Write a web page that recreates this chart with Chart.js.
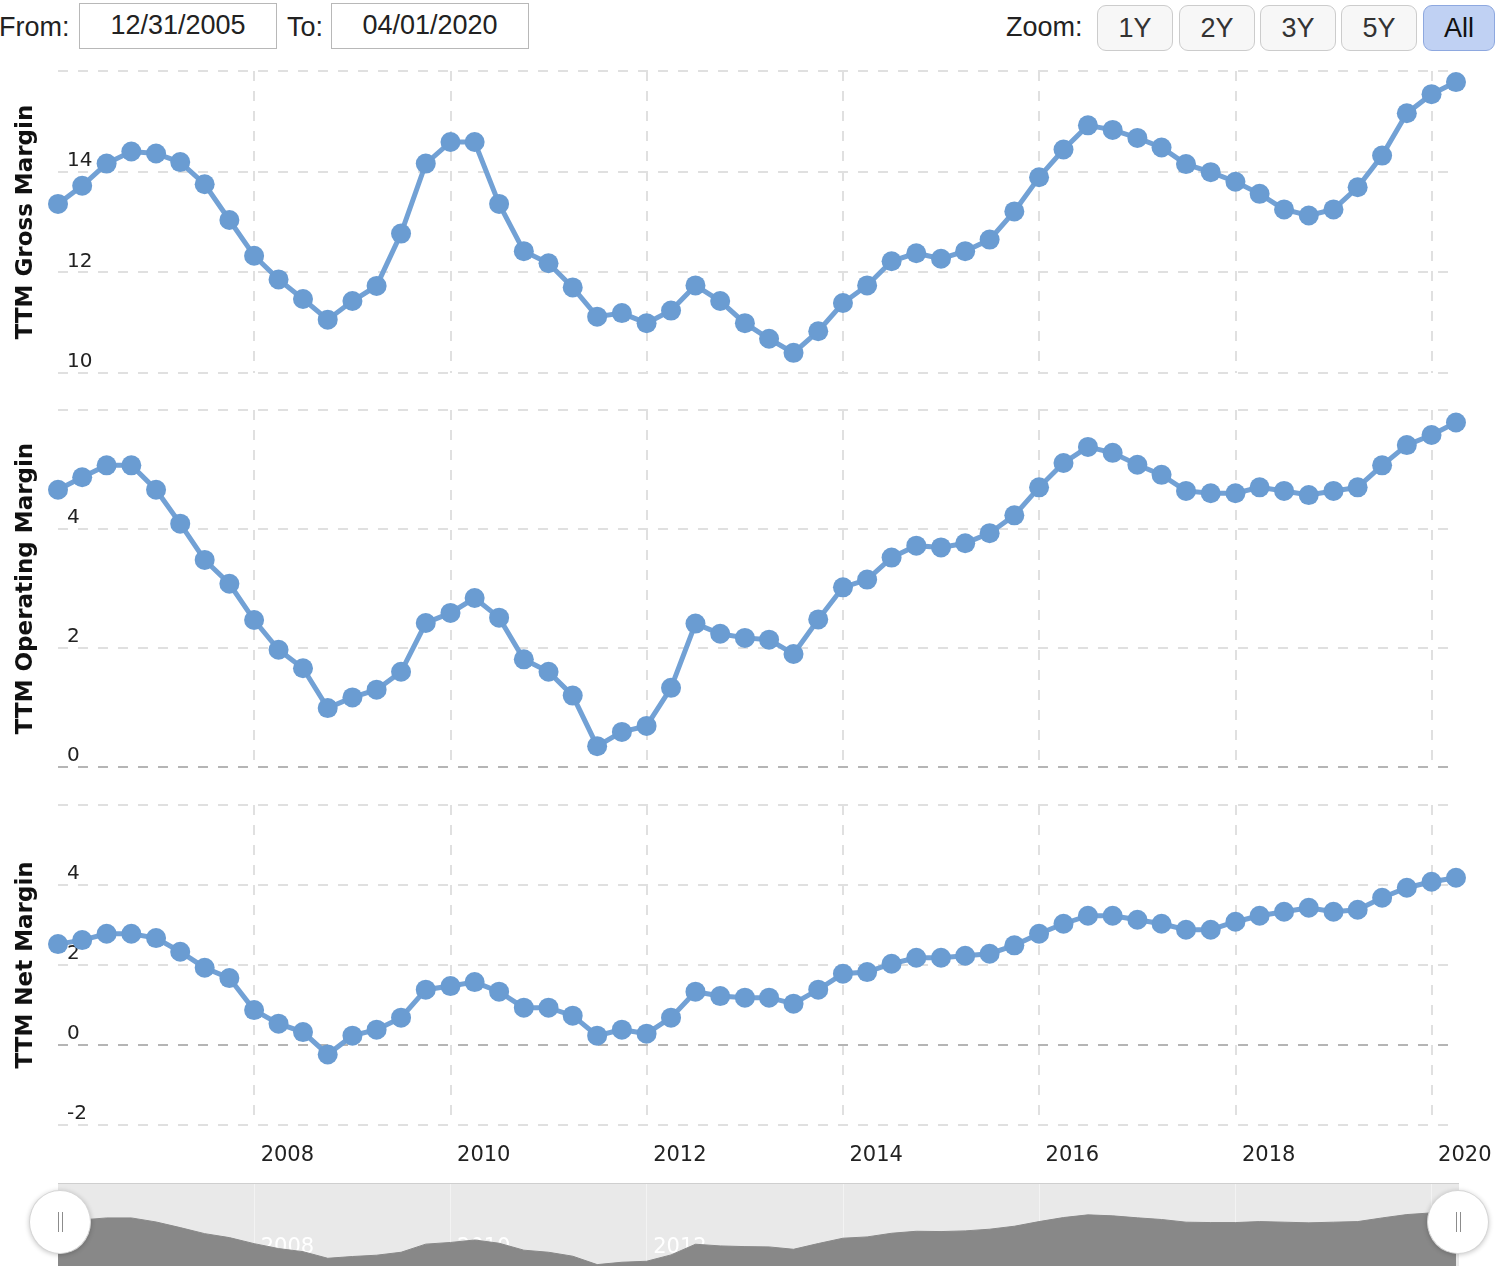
<!DOCTYPE html>
<html>
<head>
<meta charset="utf-8">
<script src="https://cdn.jsdelivr.net/npm/chart.js@4.4.1/dist/chart.umd.min.js"></script>
<style>
html,body{margin:0;padding:0;background:#fff;}
body{width:1498px;height:1266px;overflow:hidden;position:relative;font-family:"Liberation Sans",Arial,Helvetica,sans-serif;color:#222;}
.lbl{position:absolute;top:12px;font-size:27px;line-height:30px;color:#222;}
.box{position:absolute;top:3px;width:198px;height:46px;box-sizing:border-box;border:1.5px solid #b8b8b8;font-size:27px;line-height:43px;text-align:center;color:#222;background:#fff;}
.btn{position:absolute;top:5px;height:46px;width:76px;box-sizing:border-box;border:1px solid #cccccc;border-radius:9px;background:#f7f7f7;font-size:27px;line-height:44px;color:#333;text-align:center;}
.btn.sel{background:#c0d1f3;border-color:#8ea8df;color:#111;}
canvas{position:absolute;left:0;}
#navbg{position:absolute;left:58px;top:1183px;width:1401px;height:90px;background:#e9e9e9;border-top:1px solid #cfcfcf;box-sizing:border-box;}
.handle{position:absolute;top:1190px;width:62px;height:64px;border-radius:50%;background:#fff;border:1px solid #d6d6d6;box-shadow:0 1px 5px rgba(0,0,0,0.22);box-sizing:border-box;}
.handle span{position:absolute;left:28px;top:21px;width:3px;height:20px;border-left:1px solid #8c8c8c;border-right:1px solid #8c8c8c;}
</style>
</head>
<body>
<div class="lbl" style="left:-1px;">From:</div>
<div class="box" style="left:79px;">12/31/2005</div>
<div class="lbl" style="left:287px;">To:</div>
<div class="box" style="left:331px;">04/01/2020</div>
<div class="lbl" style="left:1006px;">Zoom:</div>
<div class="btn" style="left:1097px;">1Y</div>
<div class="btn" style="left:1179px;">2Y</div>
<div class="btn" style="left:1260px;">3Y</div>
<div class="btn" style="left:1341px;">5Y</div>
<div class="btn sel" style="left:1423px;width:72px;">All</div>

<div id="navbg"></div>
<canvas id="c1" width="1498" height="362" style="top:41px;"></canvas>
<canvas id="c2" width="1498" height="417" style="top:380px;"></canvas>
<canvas id="c3" width="1498" height="421" style="top:775px;"></canvas>
<canvas id="c4" width="1498" height="131" style="top:1174px;"></canvas>
<div class="handle" style="left:29px;"><span></span></div>
<div class="handle" style="left:1427px;"><span></span></div>

<script>
// ---- data (quarter ends) ----
const dates = [
 '2005-12-31','2006-03-31','2006-06-30','2006-09-30','2006-12-31','2007-03-31','2007-06-30','2007-09-30',
 '2007-12-31','2008-03-31','2008-06-30','2008-09-30','2008-12-31','2009-03-31','2009-06-30','2009-09-30',
 '2009-12-31','2010-03-31','2010-06-30','2010-09-30','2010-12-31','2011-03-31','2011-06-30','2011-09-30',
 '2011-12-31','2012-03-31','2012-06-30','2012-09-30','2012-12-31','2013-03-31','2013-06-30','2013-09-30',
 '2013-12-31','2014-03-31','2014-06-30','2014-09-30','2014-12-31','2015-03-31','2015-06-30','2015-09-30',
 '2015-12-31','2016-03-31','2016-06-30','2016-09-30','2016-12-31','2017-03-31','2017-06-30','2017-09-30',
 '2017-12-31','2018-03-31','2018-06-30','2018-09-30','2018-12-31','2019-03-31','2019-06-30','2019-09-30',
 '2019-12-31','2020-03-31'
];
const grossMargin = [
 13.36,13.72,14.16,14.40,14.36,14.19,13.75,13.04,12.33,11.86,11.47,11.06,11.43,11.73,12.77,14.16,
 14.59,14.59,13.36,12.42,12.18,11.70,11.12,11.19,10.99,11.24,11.74,11.43,10.99,10.68,10.40,10.83,
 11.39,11.74,12.22,12.38,12.27,12.42,12.65,13.21,13.89,14.44,14.92,14.83,14.67,14.48,14.15,13.99,
 13.80,13.56,13.25,13.13,13.25,13.69,14.32,15.16,15.54,15.78
];
const operatingMargin = [
 4.66,4.87,5.07,5.07,4.66,4.09,3.48,3.08,2.47,1.97,1.66,0.99,1.17,1.30,1.60,2.42,
 2.59,2.84,2.51,1.81,1.60,1.20,0.35,0.59,0.69,1.33,2.41,2.24,2.17,2.14,1.90,2.48,
 3.02,3.15,3.52,3.72,3.69,3.76,3.93,4.23,4.70,5.11,5.38,5.28,5.08,4.91,4.64,4.60,
 4.60,4.70,4.64,4.57,4.64,4.70,5.07,5.41,5.58,5.79
];
const netMargin = [
 2.52,2.62,2.78,2.78,2.67,2.33,1.93,1.67,0.87,0.53,0.32,-0.24,0.23,0.38,0.68,1.38,
 1.47,1.57,1.33,0.93,0.93,0.73,0.23,0.38,0.28,0.68,1.33,1.22,1.18,1.18,1.03,1.38,
 1.78,1.82,2.03,2.18,2.18,2.23,2.28,2.49,2.78,3.03,3.23,3.23,3.13,3.03,2.88,2.88,
 3.08,3.23,3.33,3.43,3.33,3.38,3.68,3.93,4.08,4.18
];
const tickYears = [2008,2010,2012,2014,2016,2018,2020];
const navLabelYears = [2008,2010,2012,2014,2016,2018];

// ---- helpers ----
const ts = s => new Date(s + 'T00:00:00Z').getTime();
const xMin = ts('2005-12-31');
const xMaxMain = ts('2020-03-05');
const xMaxNav = ts('2020-04-11');
const pts = vals => dates.map((d, i) => ({x: ts(d), y: vals[i]}));

const LINE = '#72a1d5';
const POINT = '#6a9cd2';
const GRID = '#e0e0e0';
const ZERO = '#b5b5b5';

function xScale(showLabels, max) {
  return {
    type: 'linear', min: xMin, max: max,
    afterBuildTicks: s => { s.ticks = tickYears.map(y => ({value: Date.UTC(y, 0, 1)})); },
    grid: {color: GRID, lineWidth: 2, drawTicks: false},
    border: {display: false, dash: [10, 10]},
    ticks: {
      display: showLabels, autoSkip: false, maxRotation: 0, padding: 18, labelOffset: 33,
      color: '#222', font: {family: 'DejaVu Sans', size: 21},
      callback: v => String(new Date(v).getUTCFullYear())
    }
  };
}
function yScale(title, min, max) {
  return {
    min: min, max: max,
    grid: {drawTicks: false, lineWidth: 2, color: c => (c.tick && c.tick.value === 0) ? ZERO : GRID},
    border: {display: false, dash: [10, 10]},
    ticks: {
      stepSize: 2, mirror: true, padding: 9, labelOffset: -11,
      color: '#222', font: {family: 'DejaVu Sans', size: 20},
      callback: (v, i, t) => i === t.length - 1 ? '' : String(v)
    },
    title: {
      display: true, text: title, color: '#111',
      font: {family: 'DejaVu Sans', size: 23, weight: 'bold', lineHeight: 1},
      padding: {top: 0, bottom: 2}
    }
  };
}
function panel(id, title, vals, min, max, showX, padBottom) {
  return new Chart(document.getElementById(id), {
    type: 'line',
    data: {datasets: [{
      data: pts(vals), borderColor: LINE, borderWidth: 5, tension: 0,
      pointRadius: 10, pointBackgroundColor: POINT, pointBorderWidth: 0, clip: false
    }]},
    options: {
      responsive: false, animation: false, devicePixelRatio: 1, events: [],
      layout: {padding: {left: 15, right: 49, top: 30, bottom: padBottom}},
      plugins: {legend: {display: false}, tooltip: {enabled: false}},
      scales: {x: xScale(showX, xMaxMain), y: yScale(title, min, max)}
    }
  });
}
panel('c1', 'TTM Gross Margin', grossMargin, 10, 16, false, 30);
panel('c2', 'TTM Operating Margin', operatingMargin, 0, 6, false, 30);
panel('c3', 'TTM Net Margin', netMargin, -2, 6, true, 10);

// ---- navigator ----
new Chart(document.getElementById('c4'), {
  type: 'line',
  data: {datasets: [{
    data: pts(operatingMargin), borderColor: '#888888', borderWidth: 1, backgroundColor: '#888888',
    fill: 'start', pointRadius: 0, tension: 0
  }]},
  options: {
    responsive: false, animation: false, devicePixelRatio: 1, events: [],
    layout: {padding: {left: 58, right: 39, top: 10, bottom: 0}},
    plugins: {legend: {display: false}, tooltip: {enabled: false}},
    scales: {
      x: {
        type: 'linear', min: xMin, max: xMaxNav, z: 1,
        afterBuildTicks: s => { s.ticks = tickYears.map(y => ({value: Date.UTC(y, 0, 1)})); },
        grid: {color: 'rgba(255,255,255,0.45)', lineWidth: 1, drawTicks: false},
        border: {display: false},
        ticks: {
          autoSkip: false, maxRotation: 0, mirror: true, padding: 15, labelOffset: 33,
          color: '#ffffff', font: {family: 'DejaVu Sans', size: 21},
          callback: v => { const y = new Date(v).getUTCFullYear(); return navLabelYears.includes(y) ? String(y) : ''; }
        }
      },
      y: {display: false, min: -0.7, max: 8.5}
    }
  }
});
</script>
</body>
</html>
